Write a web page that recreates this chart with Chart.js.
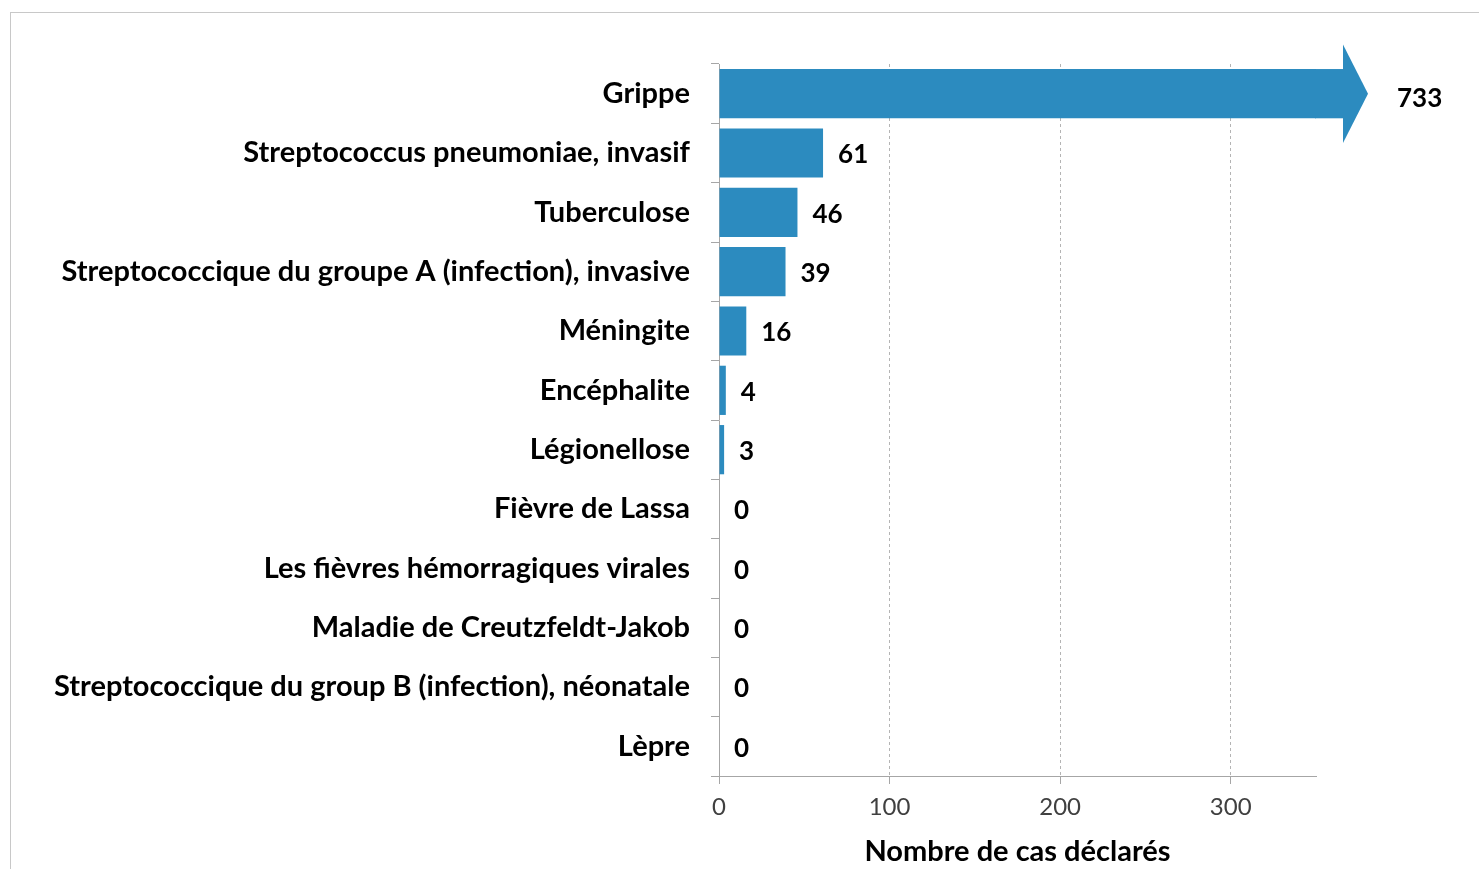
<!DOCTYPE html>
<html lang="fr">
<head>
    <meta charset="UTF-8">
    <title>Nombre de cas déclarés</title>
    <style>
        body {
            margin: 0;
            padding: 0;
            background-color: #fff;
            overflow: hidden;
        }
        .frame {
            position: absolute;
            left: 10px;
            top: 12px;
            width: 1500px;
            height: 900px;
            border-left: 1px solid #c8c8c8;
            border-top: 1px solid #c8c8c8;
        }
        #chart {
            position: absolute;
            left: 0;
            top: 0;
        }
    </style>
    <script src="https://cdn.jsdelivr.net/npm/chart.js"></script>
</head>
<body>
    <div class="frame"></div>
    <canvas id="chart" width="1479" height="869"></canvas>
    <script>
        const categories = [
            'Grippe',
            'Streptococcus pneumoniae, invasif',
            'Tuberculose',
            'Streptococcique du groupe A (infection), invasive',
            'Méningite',
            'Encéphalite',
            'Légionellose',
            'Fièvre de Lassa',
            'Les fièvres hémorragiques virales',
            'Maladie de Creutzfeldt-Jakob',
            'Streptococcique du group B (infection), néonatale',
            'Lèpre'
        ];
        const cases = [733, 61, 46, 39, 16, 4, 3, 0, 0, 0, 0, 0];
        const xTicks = [0, 100, 200, 300];
        const xMax = 350;

        const barColor = '#2c8bbf';
        const axisColor = '#a6a6a6';
        const fontFamily = 'Lato, "Open Sans", sans-serif';

        // bars beyond the axis get an arrow, plus value labels for all bars
        const valueLabels = {
            id: 'valueLabels',
            afterDatasetsDraw(chart) {
                const ctx = chart.ctx;
                const xs = chart.scales.x;
                const meta = chart.getDatasetMeta(0);
                ctx.save();
                meta.data.forEach((bar, i) => {
                    let endX = bar.x;
                    let dy = 2;
                    if (cases[i] > xs.max) {
                        const h = bar.height / 2;
                        const shaftEnd = xs.right + 27;
                        const tip = xs.right + 52;
                        ctx.fillStyle = barColor;
                        ctx.fillRect(xs.right - 1, bar.y - h, shaftEnd - xs.right + 1, h * 2);
                        ctx.beginPath();
                        ctx.moveTo(shaftEnd, bar.y - h * 2);
                        ctx.lineTo(tip, bar.y);
                        ctx.lineTo(shaftEnd, bar.y + h * 2);
                        ctx.closePath();
                        ctx.fill();
                        endX = tip + 14;
                        dy = 5;
                    }
                    ctx.fillStyle = '#000';
                    ctx.font = 'bold 26px ' + fontFamily;
                    ctx.textAlign = 'left';
                    ctx.textBaseline = 'middle';
                    ctx.fillText(String(cases[i]), endX + 15, bar.y + dy);
                });
                ctx.restore();
            }
        };

        new Chart(document.getElementById('chart'), {
            type: 'bar',
            data: {
                labels: categories,
                datasets: [{
                    data: cases,
                    backgroundColor: barColor,
                    borderWidth: 0,
                    barPercentage: 0.83,
                    categoryPercentage: 1
                }]
            },
            options: {
                indexAxis: 'y',
                responsive: false,
                animation: false,
                layout: {
                    padding: { top: 64, right: 163, bottom: 0, left: 0 }
                },
                plugins: {
                    legend: { display: false },
                    tooltip: { enabled: false }
                },
                scales: {
                    x: {
                        min: 0,
                        max: xMax,
                        afterBuildTicks: scale => {
                            scale.ticks = xTicks.map(v => ({ value: v }));
                        },
                        afterFit: scale => {
                            scale.height = 93;
                        },
                        ticks: {
                            color: '#404040',
                            font: { family: fontFamily, size: 24 },
                            padding: 9
                        },
                        grid: {
                            color: ctx => ctx.tick && ctx.tick.value === 0 ? 'rgba(0,0,0,0)' : '#b4b4b4',
                            tickColor: axisColor,
                            tickLength: 8,
                            lineWidth: 1
                        },
                        border: {
                            color: axisColor,
                            dash: [3, 3]
                        },
                        title: {
                            display: true,
                            text: 'Nombre de cas déclarés',
                            color: '#000',
                            font: { family: fontFamily, size: 29, weight: 'bold' },
                            padding: { top: 0, bottom: 0 }
                        }
                    },
                    y: {
                        afterFit: scale => {
                            scale.width = 719;
                        },
                        ticks: {
                            color: '#000',
                            font: { family: fontFamily, size: 29, weight: 'bold' },
                            padding: 21
                        },
                        grid: {
                            offset: true,
                            drawOnChartArea: false,
                            tickColor: axisColor,
                            tickLength: 8
                        },
                        border: {
                            color: axisColor
                        }
                    }
                }
            },
            plugins: [valueLabels]
        });
    </script>
</body>
</html>
